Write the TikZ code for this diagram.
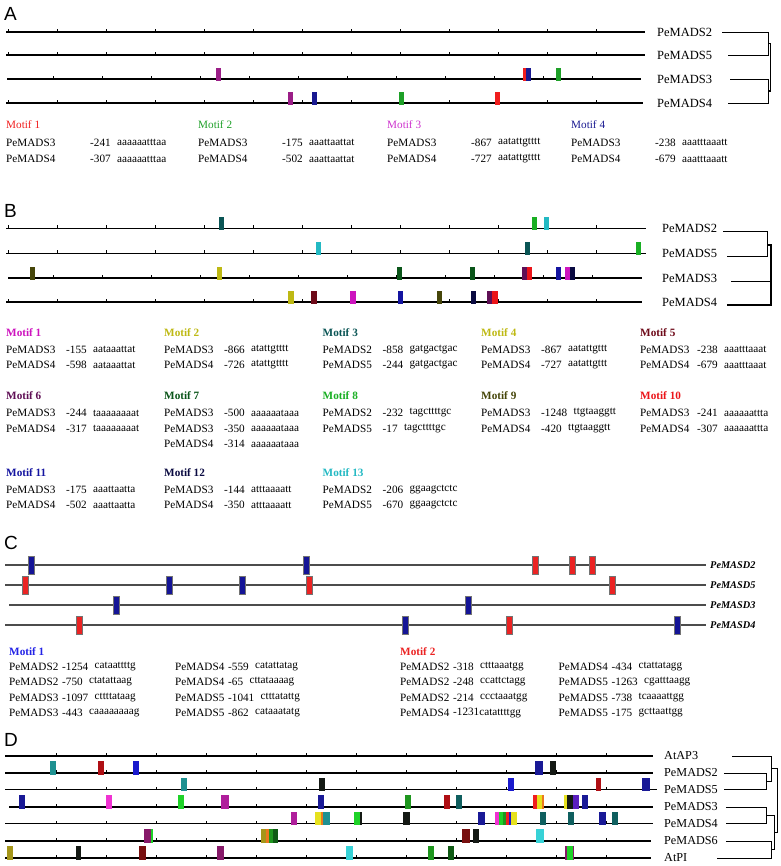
\documentclass[tikz,border=0pt]{standalone}
\usepackage{fontspec}
\setmainfont{Liberation Serif}
\newfontfamily\panelfont{Liberation Sans}
\usetikzlibrary{positioning}

% panel A colours
\definecolor{aRed}{RGB}{240,30,30}
\definecolor{aGreen}{RGB}{30,160,40}
\definecolor{aMagenta}{RGB}{205,50,205}
\definecolor{aPurple}{RGB}{155,30,135}
\definecolor{aNavy}{RGB}{25,25,145}
% panel B colours
\definecolor{bMagenta}{RGB}{205,20,190}
\definecolor{bYellow}{RGB}{190,185,20}
\definecolor{bTeal}{RGB}{10,85,85}
\definecolor{bMaroon}{RGB}{110,10,25}
\definecolor{bPlum}{RGB}{95,15,85}
\definecolor{bDkGreen}{RGB}{10,85,25}
\definecolor{bGreen}{RGB}{25,175,35}
\definecolor{bOlive}{RGB}{70,70,10}
\definecolor{bRed}{RGB}{235,20,25}
\definecolor{bBlue}{RGB}{20,20,160}
\definecolor{bNavy}{RGB}{10,10,65}
\definecolor{bCyan}{RGB}{35,185,195}
% panel C colours
\definecolor{cBlue}{RGB}{20,20,150}
\definecolor{cRed}{RGB}{235,35,35}
\definecolor{cHeadBlue}{RGB}{35,35,230}
% panel D colours
\definecolor{dTeal}{RGB}{30,145,145}
\definecolor{dDkTeal}{RGB}{15,95,95}
\definecolor{dRed}{RGB}{175,15,20}
\definecolor{dBrRed}{RGB}{240,30,30}
\definecolor{dBlue}{RGB}{25,25,205}
\definecolor{dNavy}{RGB}{25,25,150}
\definecolor{dBlack}{RGB}{20,25,20}
\definecolor{dMagenta}{RGB}{240,50,210}
\definecolor{dLime}{RGB}{30,210,40}
\definecolor{dPurple}{RGB}{175,30,155}
\definecolor{dGreen}{RGB}{30,150,30}
\definecolor{dDkGreen}{RGB}{15,90,20}
\definecolor{dYellow}{RGB}{230,225,30}
\definecolor{dOrange}{RGB}{235,120,30}
\definecolor{dViolet}{RGB}{90,30,190}
\definecolor{dPlum}{RGB}{135,25,105}
\definecolor{dOlive}{RGB}{165,150,25}
\definecolor{dMaroon}{RGB}{120,15,15}
\definecolor{dCyan}{RGB}{55,210,215}

\tikzset{
  panel/.style={anchor=west, inner sep=0pt, font=\panelfont\fontsize{19}{19}\selectfont},
  gene/.style={anchor=west, inner sep=0pt, font=\fontsize{12.5}{14}\selectfont},
  cgene/.style={anchor=west, inner sep=0pt, font=\bfseries\itshape\fontsize{10.3}{12}\selectfont},
  tab/.style={anchor=west, inner sep=0pt, font=\fontsize{11.2}{13}\selectfont},
  head/.style={tab, font=\bfseries\fontsize{11.2}{13}\selectfont},
  seqline/.style={line width=1.4pt},
  cline/.style={line width=1.2pt, black!70},
  dline/.style={line width=1.9pt},
  tick/.style={line width=0.8pt},
  dendro/.style={line width=0.8pt},
  cbox/.style={draw=black!55, line width=0.4pt},
}

% one row of a motif table: name, x, y, gene, offset, position, sequence
\newcommand{\trow}[7]{%
  \node[tab] (#1g) at (#2,#3) {#4};
  \node[tab] (#1n) at ({#2+#5},#3) {#6};
  \node[tab, right=6pt of #1n] (#1s) {#7};}

\begin{document}
\begin{tikzpicture}[x=1pt,y=-1pt]
\useasboundingbox (0,0) rectangle (780,866);

% ================= A =================
\node[panel] (pA) at (4,14) {A};
\foreach \y/\e in {32/645, 55/645, 103/643}{
  \draw[seqline] (6,\y) -- (\e,\y);
  \foreach \k in {0,...,12} \draw[tick] ({8+49*\k},\y) -- ++(0,-3);
}
\draw[seqline] (7,79) -- (641,79);
\foreach \k in {1,...,12} \draw[tick] ({4.5+49*\k},79) -- ++(0,-3);
% motif boxes
\foreach \a/\c in {215.5/aPurple, 523/aRed, 526/aNavy, 555.5/aGreen}
  \fill[\c] (\a,68) rectangle ++(5,13);
\foreach \a/\c in {287.5/aPurple, 311.5/aNavy, 398.5/aGreen, 494.5/aRed}
  \fill[\c] (\a,92) rectangle ++(5,13);
% genes and tree
\foreach \g/\y in {PeMADS2/32, PeMADS5/55, PeMADS3/79, PeMADS4/103}
  \node[gene] (A\g) at (657,\y) {\g};
\coordinate (A25) at (768,43.5);
\coordinate (A34) at (768,91);
\draw[dendro] ([xshift=10pt]APeMADS2.east) -| (A25) |- ([xshift=16pt]APeMADS5.east);
\draw[dendro] ([xshift=18pt]APeMADS3.east) -| (A34) |- ([xshift=16pt]APeMADS4.east);
\draw[dendro, line width=1.5pt] (A25) -- (770.5,43.5) -- (770.5,91) -- (A34);
% table
\foreach \x/\m/\c in {6/1/aRed, 198/2/aGreen, 387/3/aMagenta, 571/4/aNavy}
  \node[tab, text=\c] (Am\m) at (\x,124.5) {Motif \m};
\trow{A1a}{6}{142.5}{PeMADS3}{84}{-241}{aaaaaatttaa}
\trow{A1b}{6}{159}{PeMADS4}{84}{-307}{aaaaaatttaa}
\trow{A2a}{198}{142.5}{PeMADS3}{84}{-175}{aaattaattat}
\trow{A2b}{198}{159}{PeMADS4}{84}{-502}{aaattaattat}
\trow{A3a}{387}{142.5}{PeMADS3}{84}{-867}{aatattgtttt}
\trow{A3b}{387}{159}{PeMADS4}{84}{-727}{aatattgtttt}
\trow{A4a}{571}{142.5}{PeMADS3}{84}{-238}{aaatttaaatt}
\trow{A4b}{571}{159}{PeMADS4}{84}{-679}{aaatttaaatt}

% ================= B =================
\node[panel] (pB) at (4,211) {B};
\foreach \y/\e in {228.5/646, 253.5/646, 302/642}{
  \draw[seqline] (6,\y) -- (\e,\y);
  \foreach \k in {0,...,12} \draw[tick] ({8+49*\k},\y) -- ++(0,-3);
}
\draw[seqline] (8,278) -- (642,278);
\foreach \k in {1,...,12} \draw[tick] ({4.5+49*\k},278) -- ++(0,-3);
% motif boxes
\foreach \a/\c in {219/bTeal, 531.5/bGreen, 544/bCyan}
  \fill[\c] (\a,217.5) rectangle ++(5,13);
\foreach \a/\c in {316/bCyan, 524.5/bTeal, 636/bGreen}
  \fill[\c] (\a,242.5) rectangle ++(5,13);
\foreach \a/\c in {30/bOlive, 216.8/bYellow, 396.5/bDkGreen, 470/bDkGreen, 521.5/bPlum, 526.5/bRed,
                   555.5/bBlue, 565/bMagenta, 570/bNavy}
  \fill[\c] (\a,267) rectangle ++(5,13);
\foreach \a/\c in {288/bYellow, 311/bMaroon, 350/bMagenta, 397.5/bBlue, 436.5/bOlive, 470.5/bNavy,
                   487/bPlum, 492/bRed}
  \fill[\c] (\a,291) rectangle ++(5.5,13);
% genes and tree
\foreach \g/\y in {PeMADS2/228.5, PeMADS5/253.5, PeMADS3/278, PeMADS4/302}
  \node[gene] (B\g) at (662,\y) {\g};
\coordinate (B25) at (767,245);
\coordinate (Broot) at (771,245);
\draw[dendro] ([xshift=6pt,yshift=-3pt]BPeMADS2.east) -| (B25) |- ([xshift=10pt,yshift=-3pt]BPeMADS5.east);
\draw[line width=1.6pt] ([xshift=10pt,yshift=-3pt]BPeMADS5.east) -- (767,256.5);
\draw[dendro, line width=1.4pt] (B25) -- (Broot) |- ([xshift=10pt,yshift=-3pt]BPeMADS4.east);
\draw[dendro] ([xshift=14pt,yshift=-3pt]BPeMADS3.east) -- (771,281);
% table
\foreach \x/\y/\m/\c in {6/332.5/1/bMagenta, 164/332.5/2/bYellow, 322.5/332.5/3/bTeal, 481/332.5/4/bYellow,
                         640/332.5/5/bMaroon, 6/396/6/bPlum, 164/396/7/bDkGreen, 322.5/396/8/bGreen,
                         481/396/9/bOlive, 640/396/10/bRed, 6/472.5/11/bBlue, 164/472.5/12/bNavy,
                         322.5/472.5/13/bCyan}
  \node[head, text=\c] (Bm\m) at (\x,\y) {Motif \m};
\trow{B1a}{6}{349.5}{PeMADS3}{60}{-155}{aataaattat}
\trow{B1b}{6}{365}{PeMADS4}{60}{-598}{aataaattat}
\trow{B2a}{164}{349.5}{PeMADS3}{60}{-866}{atattgtttt}
\trow{B2b}{164}{365}{PeMADS4}{60}{-726}{atattgtttt}
\trow{B3a}{322.5}{349.5}{PeMADS2}{60}{-858}{gatgactgac}
\trow{B3b}{322.5}{365}{PeMADS5}{60}{-244}{gatgactgac}
\trow{B4a}{481}{349.5}{PeMADS3}{60}{-867}{aatattgttt}
\trow{B4b}{481}{365}{PeMADS4}{60}{-727}{aatattgttt}
\trow{B5a}{640}{349.5}{PeMADS3}{57}{-238}{aaatttaaat}
\trow{B5b}{640}{365}{PeMADS4}{57}{-679}{aaatttaaat}
\trow{B6a}{6}{413}{PeMADS3}{60}{-244}{taaaaaaaat}
\trow{B6b}{6}{428.5}{PeMADS4}{60}{-317}{taaaaaaaat}
\trow{B7a}{164}{413}{PeMADS3}{60}{-500}{aaaaaataaa}
\trow{B7b}{164}{428.5}{PeMADS3}{60}{-350}{aaaaaataaa}
\trow{B7c}{164}{444}{PeMADS4}{60}{-314}{aaaaaataaa}
\trow{B8a}{322.5}{413}{PeMADS2}{60}{-232}{tagcttttgc}
\trow{B8b}{322.5}{428.5}{PeMADS5}{60}{-17}{tagcttttgc}
\trow{B9a}{481}{413}{PeMADS3}{60}{-1248}{ttgtaaggtt}
\trow{B9b}{481}{428.5}{PeMADS4}{60}{-420}{ttgtaaggtt}
\trow{B10a}{640}{413}{PeMADS3}{57}{-241}{aaaaaattta}
\trow{B10b}{640}{428.5}{PeMADS4}{57}{-307}{aaaaaattta}
\trow{B11a}{6}{489.5}{PeMADS3}{60}{-175}{aaattaatta}
\trow{B11b}{6}{505}{PeMADS4}{60}{-502}{aaattaatta}
\trow{B12a}{164}{489.5}{PeMADS3}{60}{-144}{atttaaaatt}
\trow{B12b}{164}{505}{PeMADS4}{60}{-350}{atttaaaatt}
\trow{B13a}{322.5}{489.5}{PeMADS2}{60}{-206}{ggaagctctc}
\trow{B13b}{322.5}{505}{PeMADS5}{60}{-670}{ggaagctctc}

% ================= C =================
\node[panel] (pC) at (4,543) {C};
\foreach \y/\s in {565/5, 585/5, 605/9, 625/5}
  \draw[cline] (\s,\y) -- (706,\y);
\foreach \a/\c in {31/cBlue, 306/cBlue, 535/cRed, 572.5/cRed, 592.5/cRed}
  \filldraw[cbox, fill=\c] ({\a-3},556) rectangle ++(6,18);
\foreach \a/\c in {25/cRed, 169/cBlue, 242.5/cBlue, 309/cRed, 612.5/cRed}
  \filldraw[cbox, fill=\c] ({\a-3},576) rectangle ++(6,18);
\foreach \a/\c in {116.5/cBlue, 468.5/cBlue}
  \filldraw[cbox, fill=\c] ({\a-3},596) rectangle ++(6,18);
\foreach \a/\c in {79/cRed, 405/cBlue, 509/cRed, 677.5/cBlue}
  \filldraw[cbox, fill=\c] ({\a-3},616) rectangle ++(6,18);
\foreach \g/\y in {PeMASD2/565, PeMASD5/585, PeMASD3/605, PeMASD4/625}
  \node[cgene] (C\g) at (710,\y) {\g};
% table
\node[head, text=cHeadBlue] (Cm1) at (9,651.5) {Motif 1};
\node[head, text=cRed] (Cm2) at (400,651.5) {Motif 2};
\trow{C1a}{9}{666.5}{PeMADS2}{53}{-1254}{cataattttg}
\trow{C1b}{9}{682}{PeMADS2}{53}{-750}{ctatattaag}
\trow{C1c}{9}{697.5}{PeMADS3}{53}{-1097}{cttttataag}
\trow{C1d}{9}{713}{PeMADS3}{53}{-443}{caaaaaaaag}
\trow{C1e}{175}{666.5}{PeMADS4}{53}{-559}{catattatag}
\trow{C1f}{175}{682}{PeMADS4}{53}{-65}{cttataaaag}
\trow{C1g}{175}{697.5}{PeMADS5}{53}{-1041}{ctttatattg}
\trow{C1h}{175}{713}{PeMADS5}{53}{-862}{cataaatatg}
\trow{C2a}{400}{666.5}{PeMADS2}{53}{-318}{ctttaaatgg}
\trow{C2b}{400}{682}{PeMADS2}{53}{-248}{ccattctagg}
\trow{C2c}{400}{697.5}{PeMADS2}{53}{-214}{ccctaaatgg}
\node[tab] (C2dg) at (400,713) {PeMADS4};
\node[tab] (C2dn) at (453,713) {-1231catattttgg};
\trow{C2e}{558.5}{666.5}{PeMADS4}{53}{-434}{ctattatagg}
\trow{C2f}{558.5}{682}{PeMADS5}{53}{-1263}{cgatttaagg}
\trow{C2g}{558.5}{697.5}{PeMADS5}{53}{-738}{tcaaaattgg}
\trow{C2h}{558.5}{713}{PeMADS5}{53}{-175}{gcttaattgg}

% ================= D =================
\node[panel] (pD) at (4,740) {D};
\foreach \y/\s/\e in {756/5/653, 773/5/653, 789.5/5/657, 807/9/653, 823.5/5/653, 841/5/651, 858/5/651}{
  \draw[dline] (\s,\y) -- (\e,\y);
  \foreach \k in {1,...,12} \draw[tick] ({6+50*\k},\y) -- ++(0,-3);
}
% motif boxes
\foreach \a/\b/\c in {50/56/dTeal, 97.5/103.5/dRed, 132.5/138.5/dBlue, 535/543/dNavy, 550/556/dBlack}
  \fill[\c] (\a,761) rectangle (\b,774.5);
\foreach \a/\b/\c in {181/187/dTeal, 318.5/324.5/dBlack, 508/514/dBlue, 595.5/601/dRed, 641.5/649.5/dNavy}
  \fill[\c] (\a,777.5) rectangle (\b,791);
\foreach \a/\b/\c in {18.5/24.5/dNavy, 106/112/dMagenta, 177.5/183.5/dLime, 221/228.5/dPurple,
                      318/324/dNavy, 405/411/dGreen, 443.5/449.5/dRed, 455.5/461.5/dDkTeal,
                      533/537/dBrRed, 536.5/542/dYellow, 542/544/dOrange,
                      564/567.5/dYellow, 567/573/dBlack, 573/578.5/dViolet, 581.5/587.5/dNavy}
  \fill[\c] (\a,795) rectangle (\b,808.5);
\foreach \a/\b/\c in {290.5/296.5/dPurple, 315/320.5/dYellow, 320.5/322.5/dOrange, 322.5/329.5/dTeal,
                      354/359.5/dLime, 359.5/362/dBlack, 402.5/410/dBlack, 477.5/485/dNavy,
                      495/498.5/dMagenta, 498.5/503/dLime, 503/505.5/dGreen, 505.5/508.5/dBrRed,
                      508.5/511/dBlue, 511/517/dYellow, 540/546/dDkTeal, 568/574/dDkTeal,
                      599/605.5/dNavy, 611.5/617.5/dDkTeal}
  \fill[\c] (\a,811.5) rectangle (\b,825);
\foreach \a/\b/\c in {144/151/dPlum, 151/153/dLime, 261/266/dOlive, 266/268.5/dOrange, 268.5/272.5/dGreen,
                      272.5/277.5/dDkGreen, 462/469.5/dMaroon, 473/478.5/dBlack, 536/543.5/dCyan}
  \fill[\c] (\a,829) rectangle (\b,842.5);
\foreach \a/\b/\c in {6.5/12.5/dOlive, 76/81/dBlack, 139/146/dMaroon, 216.5/223.5/dPlum, 346/353/dCyan,
                      428/434/dGreen, 447.5/454/dDkGreen, 565/574/dPlum, 566.5/572.5/dLime}
  \fill[\c] (\a,846) rectangle (\b,859.5);
% genes and tree
\foreach \g/\y in {AtAP3/756, PeMADS2/773, PeMADS5/789.5, PeMADS3/807, PeMADS4/823.5, PeMADS6/841, AtPI/858}
  \node[gene, font=\fontsize{12.2}{14}\selectfont] (D\g) at (664,\y) {\g};
\coordinate (D25) at (766,781.25);
\coordinate (D34) at (766,815.25);
\coordinate (D6PI) at (771,849.5);
\draw[dendro] ([xshift=6pt]DPeMADS2.east) -| (D25) |- ([xshift=6pt]DPeMADS5.east);
\draw[dendro] ([xshift=34pt]DAtAP3.east) -| (771,781.25) -- (D25);
\draw[dendro] ([xshift=8pt]DPeMADS3.east) -| (D34) |- ([xshift=8pt]DPeMADS4.east);
\draw[dendro] ([xshift=8pt]DPeMADS6.east) -| (D6PI) |- ([xshift=30pt]DAtPI.east);
\draw[dendro] (D34) -- (774,815.25) -- (774,849.5) -- (D6PI);
\draw[dendro] (771,768.6) -- (777,768.6) -- (777,832.4) -- (774,832.4);
\end{tikzpicture}
\end{document}
